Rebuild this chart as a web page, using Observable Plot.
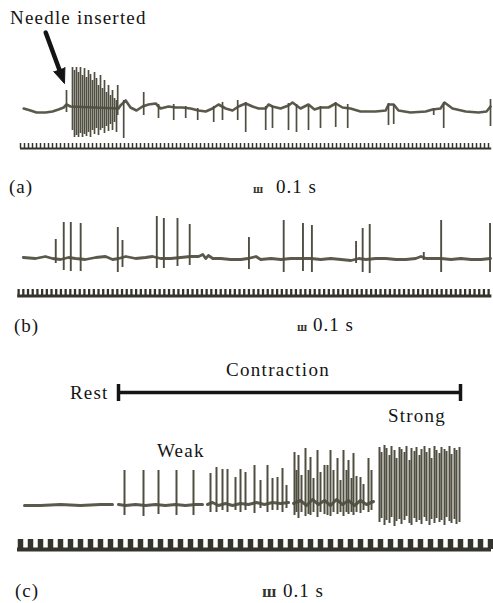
<!DOCTYPE html>
<html><head><meta charset="utf-8">
<script src="https://cdn.jsdelivr.net/npm/d3@7"></script>
<script src="https://cdn.jsdelivr.net/npm/@observablehq/plot@0.6"></script>
<style>
body{margin:0;background:#fff;}
#fig{position:relative;width:493px;height:603px;overflow:hidden;}
</style></head><body><div id="fig"></div>
<script>
// ---------- Panel (a): needle insertion (time in ms, amplitude in µV) ----------
const aBaseT = [8,25,40,63,80,95,108,115,125,245,250,263,275,290,305,320,338,350,370,388,405,425,445,463,480,495,513,530,545,563,580,595,613,620,630,650,670,680,700,720,735,750,770,788,805,825,850,888,913,920,933,945,975,1013,1030,1050,1060,1080,1113,1145,1165,1175];
const aBaseV = [0,-20,-40,-40,-30,-10,10,40,20,0,30,80,10,-20,20,40,50,0,20,10,10,0,-20,-30,0,40,0,-20,20,50,20,0,0,40,20,0,30,60,0,40,-10,10,10,50,10,0,-30,-30,-20,40,40,-20,-40,-30,-10,0,60,0,-30,-40,-30,20];
const aSpikeT  = [115,130,135,140,145,150,155,160,165,170,175,180,185,190,195,200,205,210,215,220,225,230,235,240,243,258,308,345,383,413,443,483,505,543,563,613,630,670,690,720,750,788,818,920,933,1033,1058,1175];
const aSpikeUp = [180,410,380,410,360,410,330,400,310,380,340,280,360,300,230,330,200,280,160,230,130,180,100,80,230,80,160,40,40,20,0,20,60,80,60,20,20,50,40,30,20,60,40,50,40,0,60,90];
const aSpikeDn = [-40,-220,-290,-270,-290,-250,-290,-260,-280,-240,-290,-220,-260,-200,-270,-220,-200,-250,-180,-230,-160,-220,-140,-240,-70,-300,-70,-100,-120,-100,-120,-140,-120,-120,-240,-220,-200,-220,-240,-220,-200,-190,-200,-170,-160,-70,-200,-180];
const aArrowShaft = [{t:63,a:760},{t:97,a:390}];
const aArrowHead  = [{t:111,a:411},{t:110,a:250},{t:83,a:369}];

// ---------- Panel (b): spontaneous activity ----------
const bBaseT = [6,32,53,68,85,102,117,138,160,181,196,209,224,245,266,281,298,320,341,362,379,388,394,400,409,426,447,469,484,501,511,533,554,575,596,618,639,660,682,703,720,735,756,777,799,820,841,852,863,878,895,916,937,959,980,1000];
const bBaseV = [10,0,20,0,-10,10,0,-10,10,20,-10,0,20,0,10,20,0,0,10,20,20,40,0,30,0,0,-10,-10,0,20,-10,0,-10,0,0,0,-10,0,-10,-20,0,-10,0,0,-10,-10,0,20,0,0,0,-10,0,-10,-10,0];
const bSpikeT  = [75,92,107,128,207,217,290,305,334,360,486,560,601,620,714,728,743,858,895,999];
const bSpikeUp = [190,360,360,350,310,180,420,400,400,340,210,380,350,330,170,300,340,60,380,350];
const bSpikeDn = [-50,-120,-130,-130,-140,-90,-100,-100,-80,-70,-110,-140,-130,-140,-50,-140,-150,-20,-140,-140];

// ---------- Panel (c): rest → weak → strong contraction ----------
const cBaseSeg = ["rest","rest","rest","rest","rest","rest",
  "weak","weak","weak","weak","weak","weak","weak","weak","weak","weak",
  "mid","mid","mid","mid","mid","mid","mid","mid","mid","mid","mid","mid",
  "high","high","high","high","high","high","high","high","high","high","high","high","high","high"];
const cBaseT = [6,22,42,62,82,94, 100,107,117,127,137,147,157,167,177,184, 189,194,200,207,214,222,230,238,246,254,262,270, 275,282,288,294,300,306,312,318,324,330,336,342,348,355];
const cBaseV = [-10,-10,0,-10,0,0, 0,-10,0,-10,0,-10,0,-10,0,0, 0,20,-10,10,-10,10,0,20,0,20,10,20, 10,40,-10,50,0,40,-10,50,0,40,-10,40,0,30];
const cSpikeT  = [106,125,140,158,175, 192,198,204,209,217,222,227,236,242,249,254,259,264,268, 276,278,280,283,287,290,292,295,299,302,306,309,312,315,319,322,325,328,330,333,335,338,342,345,350,353, 361,363,366,368,371,373,376,378,381,383,386,388,391,393,396,398,401,403,406,408,411,413,416,418,421,423,426,428,431,433,436,438,441];
const cSpikeUp = [340,340,340,340,340, 310,370,350,350,270,350,320,390,240,390,260,270,360,190, 520,340,490,290,560,340,470,260,540,320,390,390,540,340,460,240,540,340,440,260,510,280,270,200,460,340, 570,520,590,560,490,580,540,460,570,550,520,580,440,560,530,570,490,550,580,520,560,460,580,540,510,570,550,530,580,500,560,540,570];
const cSpikeDn = [-110,-120,-100,-110,-110, -80,-80,-60,-80,-60,-80,-60,-90,-40,-80,-60,-60,-80,-40, -110,-80,-140,-80,-120,-100,-110,-80,-130,-80,-100,-110,-120,-80,-100,-80,-120,-80,-100,-80,-110,-80,-90,-60,-80,-60, -180,-140,-210,-160,-190,-130,-220,-170,-150,-200,-160,-120,-190,-210,-140,-180,-160,-200,-130,-170,-210,-150,-190,-140,-180,-160,-210,-130,-170,-190,-150,-200,-180];
const cContraction = {start:100, end:442, level:1120, capLow:1030, capHigh:1200};

// ---------- time-marker combs (period in ms) ----------
const rulerA = {from:0,  to:1178, first:0,  last:1175, period:10, base:-400, top:-350};
const rulerB = {from:-6, to:1003, first:-4, last:996,  period:10, base:-375, top:-310};
const rulerC = {from:-1, to:473,  first:2,  last:472,  period:10, base:-450, top:-350};

// ---------- drawing ----------
const TRACE = "#5a594b", SPIKE = "#4f4e41", RULER = "#35342c", INK = "#141414";
const fig = document.getElementById("fig");

function rows(t, v, extra) { return t.map((d, i) => Object.assign({t: d, a: v[i]}, extra ? extra(i) : {})); }
function spikes(t, up, dn) { return t.map((d, i) => ({t: d, up: up[i], dn: dn[i]})); }
function rulerMarks(r, lw, tw) {
  const teeth = d3.range(r.first, r.last + 1e-6, r.period).map(t => ({t, y1: r.base, y2: r.top}));
  return [
    Plot.ruleY([r], {y: "base", x1: "from", x2: "to", stroke: RULER, strokeWidth: lw}),
    Plot.ruleX(teeth, {x: "t", y1: "y1", y2: "y2", stroke: RULER, strokeWidth: tw})
  ];
}
function panel(top, height, baseY, xDomain, xRange, marks) {
  const svg = Plot.plot({
    width: 493, height, margin: 0,
    x: {domain: xDomain, range: xRange, axis: null},
    y: {domain: [(baseY - top - height) * 10, (baseY - top) * 10], range: [height, 0], axis: null},
    style: {background: "transparent", overflow: "visible"},
    marks
  });
  svg.style.position = "absolute"; svg.style.left = "0px"; svg.style.top = top + "px";
  fig.appendChild(svg);
}

panel(0, 200, 108, [0, 1180], [20, 492], [
  Plot.line(rows(aBaseT, aBaseV), {x: "t", y: "a", stroke: TRACE, strokeWidth: 2.6, strokeLinejoin: "round"}),
  Plot.ruleX(spikes(aSpikeT, aSpikeUp, aSpikeDn), {x: "t", y1: "dn", y2: "up", stroke: SPIKE, strokeWidth: 1.7}),
  ...rulerMarks(rulerA, 2.2, 1.5),
  Plot.line(aArrowShaft, {x: "t", y: "a", stroke: INK, strokeWidth: 4.5}),
  Plot.line(aArrowHead, {x: "t", y: "a", fill: INK, stroke: INK, strokeWidth: 1})
]);

panel(200, 140, 258, [0, 1000], [20, 490], [
  Plot.line(rows(bBaseT, bBaseV), {x: "t", y: "a", stroke: TRACE, strokeWidth: 2.8, strokeLinejoin: "round"}),
  Plot.ruleX(spikes(bSpikeT, bSpikeUp, bSpikeDn), {x: "t", y1: "dn", y2: "up", stroke: SPIKE, strokeWidth: 1.9}),
  ...rulerMarks(rulerB, 3, 2.3)
]);

panel(340, 263, 504, [0, 473], [18, 491], [
  Plot.line(rows(cBaseT, cBaseV, i => ({seg: cBaseSeg[i]})), {x: "t", y: "a", z: "seg", stroke: TRACE, strokeWidth: 3, strokeLinejoin: "round"}),
  Plot.ruleX(spikes(cSpikeT, cSpikeUp, cSpikeDn), {x: "t", y1: "dn", y2: "up", stroke: SPIKE, strokeWidth: 2}),
  ...rulerMarks(rulerC, 4, 5.5),
  Plot.ruleY([cContraction], {y: "level", x1: "start", x2: "end", stroke: INK, strokeWidth: 3.5}),
  Plot.ruleX([cContraction.start, cContraction.end], {x: d => d, y1: () => cContraction.capLow, y2: () => cContraction.capHigh, stroke: INK, strokeWidth: 3.5})
]);

// ---------- labels ----------
const labels = [
  ["Needle inserted", 10, 24, 19, 1.2, "normal"],
  ["(a)", 9, 193, 19, 1, "normal"],
  ["ш", 253, 193, 12, 0, "bold"],
  ["0.1 s", 276, 193, 19, 1, "normal"],
  ["(b)", 14, 332, 19, 1, "normal"],
  ["ш", 297, 331, 12, 0, "bold"],
  ["0.1 s", 313, 331, 19, 1, "normal"],
  ["Rest", 70, 399, 19, 1.2, "normal"],
  ["Contraction", 226, 376, 19, 1.3, "normal"],
  ["Strong", 388, 422, 19, 1.2, "normal"],
  ["Weak", 157, 457, 19, 1.2, "normal"],
  ["(c)", 15, 597, 19, 1, "normal"],
  ["ш", 262, 597, 17, 0, "bold"],
  ["0.1 s", 283, 597, 19, 1, "normal"]
];
const overlay = d3.create("svg").attr("width", 493).attr("height", 603)
  .style("position", "absolute").style("left", "0px").style("top", "0px");
overlay.selectAll("text").data(labels).join("text")
  .attr("x", d => d[1]).attr("y", d => d[2])
  .attr("font-family", "'Liberation Serif', serif")
  .attr("font-size", d => d[3]).attr("letter-spacing", d => d[4])
  .attr("font-weight", d => d[5])
  .attr("fill", d => d[0] === "ш" ? RULER : INK)
  .text(d => d[0]);
fig.appendChild(overlay.node());
</script>
</body></html>
